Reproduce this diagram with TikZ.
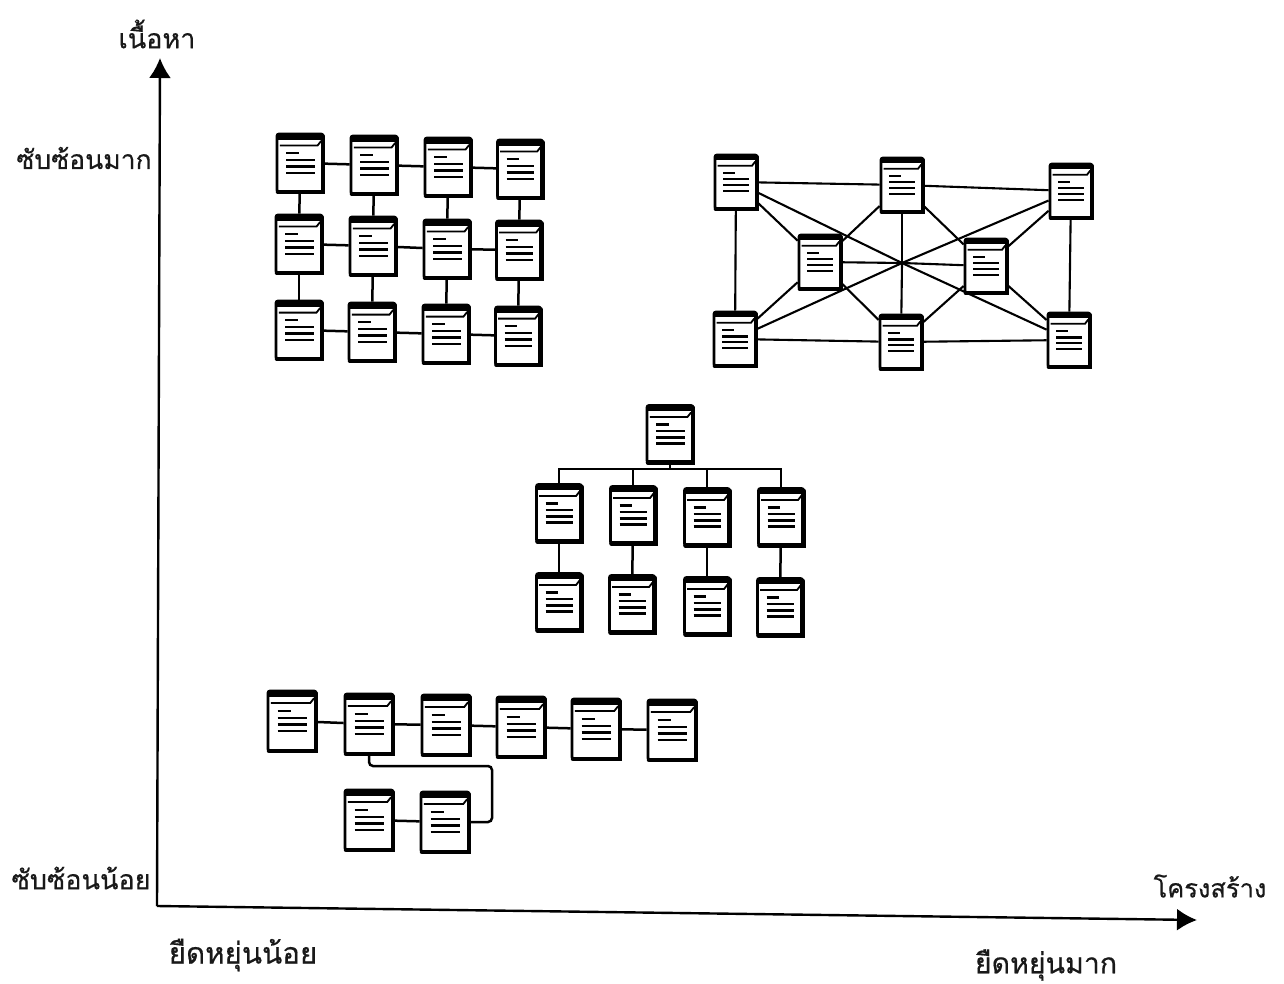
\documentclass[tikz,border=0pt]{standalone}
\usepackage{fontspec}
\usetikzlibrary{arrows.meta}
\newfontfamily\thaifont[Script=Thai,FakeBold=0.5]{Loma}
\tikzset{
  docbox/.style={draw=black,line width=2.8pt,fill=white,rounded corners=2pt,inner sep=0pt},
  link/.style={draw=black,line width=2.5pt},
  thin link/.style={draw=black,line width=2.1pt},
  axis/.style={draw=black,line width=2.4pt,-{Latex[length=20pt,width=22pt]}},
  label/.style={inner sep=0pt,text=black!90},
  tsize/.style={font=\thaifont\fontsize{#1}{32}\selectfont}
}
\newcommand\docu[5]{%
  \node[docbox,minimum width=#4pt,minimum height=#5pt] (#1) at (#2,#3) {};
  \begin{scope}[shift={(#1.center)},x=#4pt,y=-#5pt]
    \draw[line width=4.4pt,line cap=round] (.5,-.46) -- (.5,.5) -- (-.48,.5);
    \fill[black] (-.5,-.5) rectangle (.5,-.40);
    \draw[line width=1.8pt] (-.44,-.30) -- (.38,-.30) -- (.46,-.38);
    \draw[line width=2.4pt] (-.30,-.17) -- (-.02,-.17);
    \draw[line width=2.4pt] (-.30,-.05) -- (.32,-.05);
    \draw[line width=2.4pt] (-.30,.06) -- (.32,.06);
    \draw[line width=2.4pt] (-.30,.17) -- (.32,.17);
  \end{scope}}
\begin{document}
\begin{tikzpicture}[x=1pt,y=-1pt]
\useasboundingbox (0,0) rectangle (1284,984);
\fill[white] (0,0) rectangle (1284,984);
% axes
\coordinate (o) at (157,906);
\coordinate (ytip) at (160,58);
\coordinate (xtip) at (1197,920);
\draw[axis] (o) -- (ytip);
\draw[axis] (o) -- (xtip);
\node[label,tsize=27] (lcontent) at (157,34) {เนื้อหา};
\node[label,tsize=26.5] (lhigh) at (84,158) {ซับซ้อนมาก};
\node[label,tsize=27] (llow) at (81,878) {ซับซ้อนน้อย};
\node[label,tsize=29.5] (lflexlow) at (243,955) {ยืดหยุ่นน้อย};
\node[label,tsize=28.5] (lflexhigh) at (1046,965) {ยืดหยุ่นมาก};
\node[label,tsize=25.5] (lstruct) at (1210,886) {โครงสร้าง};
% grid
\docu{a1}{300}{163}{46}{58}\docu{a2}{374}{165}{46}{58}\docu{a3}{448}{167}{46}{58}\docu{a4}{520}{169}{45}{58}
\docu{b1}{299}{244}{46}{58}\docu{b2}{373}{246}{46}{58}\docu{b3}{447}{249}{46}{58}\docu{b4}{519}{250}{45}{58}
\docu{d1}{299}{330}{46}{58}\docu{d2}{372}{332}{46}{58}\docu{d3}{446}{334}{46}{58}\docu{d4}{518}{336}{45}{58}
\foreach \r in {a,b,d}{
  \draw[link] (\r1) -- (\r2);
  \draw[link] (\r2) -- (\r3);
  \draw[link] (\r3) -- (\r4);
}
\foreach \c in {1,2,3,4}{
  \draw[link] (a\c) -- (b\c);
  \draw[link] (b\c) -- (d\c);
}
% network
\docu{tl}{736}{182}{42}{54}\docu{tm}{902}{185}{42}{54}\docu{tr}{1071}{191}{42}{54}
\docu{il}{820}{262}{42}{54}\docu{ir}{986}{266}{42}{54}
\docu{bl}{735}{339}{42}{54}\docu{bm}{901}{342}{42}{54}\docu{br}{1069}{340}{42}{54}
\coordinate (hub) at (902,263);
\foreach \p/\q in {tl/tm,tm/tr,bl/bm,bm/br,tl/bl,tr/br,tl/il,tm/il,bl/il,bm/il,tm/ir,tr/ir,bm/ir,br/ir}{
  \draw[thin link] (\p) -- (\q);
}
\foreach \p in {tl,tm,tr,il,ir,bl,bm,br}{
  \draw[thin link] (\p) -- (hub);
}
% tree
\docu{root}{670}{434}{46}{57}
\docu{e1}{559}{513}{45}{57}\docu{e2}{633}{515}{45}{57}\docu{e3}{707}{517}{45}{57}\docu{e4}{781}{517}{45}{57}
\docu{f1}{559}{602}{45}{57}\docu{f2}{632}{604}{45}{57}\docu{f3}{707}{606}{45}{57}\docu{f4}{780}{607}{45}{57}
\coordinate (bus) at (670,469);
\draw[link] (root) -- (bus);
\foreach \c in {1,2,3,4}{
  \draw[link] (e\c.north) |- (bus);
  \draw[link] (e\c) -- (f\c);
}
% chain
\docu{c1}{292}{721}{48}{60}\docu{c2}{369}{724}{48}{60}\docu{c3}{446}{725}{48}{60}\docu{c4}{521}{727}{48}{60}\docu{c5}{596}{729}{48}{60}\docu{c6}{672}{730}{48}{60}
\docu{c7}{369}{820}{48}{60}\docu{c8}{445}{822}{48}{60}
\draw[link] (c1) -- (c2);
\draw[link] (c2) -- (c3);
\draw[link] (c3) -- (c4);
\draw[link] (c4) -- (c5);
\draw[link] (c5) -- (c6);
\draw[link] (c7) -- (c8);
\coordinate (ret) at (492,766);
\draw[link,rounded corners=4pt] (c2.south) |- (ret) |- (c8.east);
\end{tikzpicture}
\end{document}
